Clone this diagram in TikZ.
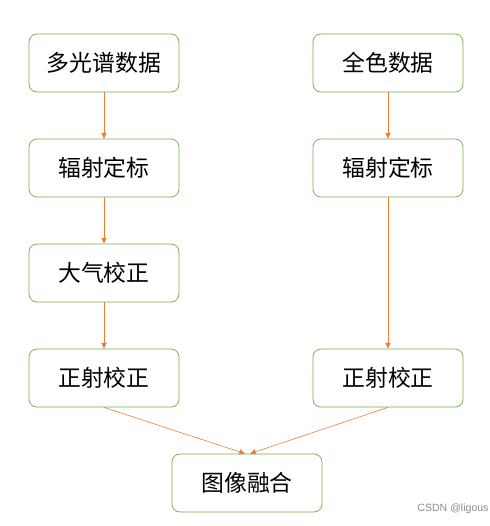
\documentclass[tikz,border=0pt]{standalone}
\usepackage{fontspec}
\setmainfont{Noto Sans CJK SC}
\usepackage{tikz}
\usetikzlibrary{arrows.meta}
\definecolor{boxgreen}{RGB}{112,173,71}
\definecolor{arrorange}{RGB}{237,125,49}

\begin{document}
\begin{tikzpicture}[
  stepbox/.style={draw=boxgreen, line width=0.6pt, rounded corners=0.24cm, minimum width=4.5cm, minimum height=1.74cm, inner sep=0pt, font=\fontsize{19.5}{23}\selectfont},
  flow/.style={draw=arrorange, line width=0.5pt, -{Triangle[length=5pt, width=4.5pt]}}]
  \useasboundingbox (0,0) rectangle (14.7,15.78);
  % left column
  \node[stepbox] (ms)   at (3.12,13.89) {多光谱数据};
  \node[stepbox] (rcl)  at (3.12,10.74) {辐射定标};
  \node[stepbox] (atm)  at (3.12,7.59)  {大气校正};
  \node[stepbox] (orl)  at (3.12,4.44)  {正射校正};
  % right column
  \node[stepbox] (pan)  at (11.64,13.89) {全色数据};
  \node[stepbox] (rcr)  at (11.64,10.74) {辐射定标};
  \node[stepbox] (orr)  at (11.64,4.44)  {正射校正};
  % fusion
  \node[stepbox] (fuse) at (7.41,1.29) {图像融合};
  \draw[flow] (ms) -- (rcl);
  \draw[flow] (rcl) -- (atm);
  \draw[flow] (atm) -- (orl);
  \draw[flow] (pan) -- (rcr);
  \draw[flow] (rcr) -- (orr);
  \draw[flow] (orl.south) -- ([xshift=-0.06cm]fuse.north);
  \draw[flow] (orr.south) -- ([xshift=0.09cm]fuse.north);
  \node[text=black!45, font=\fontsize{9}{10}\selectfont\fontspec{Liberation Sans}] (mark) at (13.59,0.51) {CSDN @ligous};
\end{tikzpicture}
\end{document}
